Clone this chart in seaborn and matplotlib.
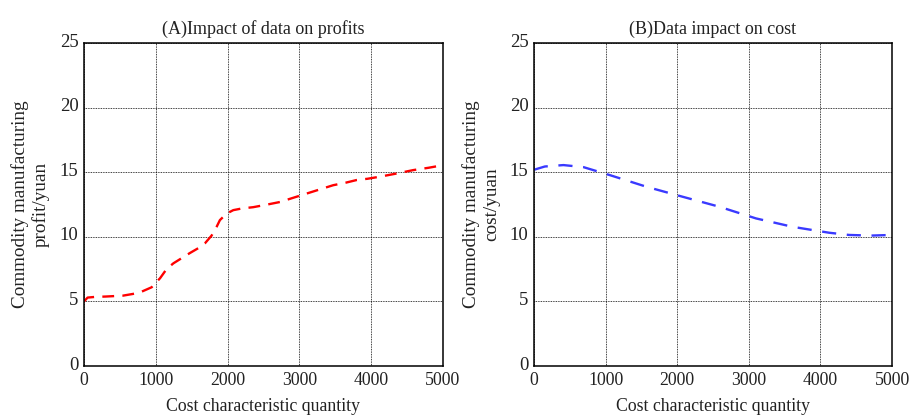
import matplotlib
matplotlib.use("Agg")
import matplotlib.pyplot as plt
import matplotlib.transforms as mtransforms
import pandas as pd
import seaborn as sns

# (A) profit curve
profit_x = [0, 50, 150, 300, 543, 700, 800, 943, 1060, 1150, 1245, 1360, 1476, 1600, 1685,
            1778, 1850, 1894, 1987, 2080, 2200, 2358, 2550, 2730, 2900, 3100, 3300, 3472,
            3650, 3797, 3950, 4123, 4350, 4587, 4800, 5000]
profit_y = [5.0, 5.3, 5.35, 5.38, 5.45, 5.6, 5.75, 6.1, 6.8, 7.5, 7.95, 8.35, 8.75, 9.15, 9.5,
            10.1, 10.8, 11.3, 11.8, 12.07, 12.2, 12.3, 12.5, 12.7, 13.0, 13.35, 13.7, 14.0,
            14.2, 14.4, 14.5, 14.66, 14.9, 15.17, 15.35, 15.55]

# (B) cost curve
cost_x = [0, 150, 410, 690, 1060, 1570, 2080, 2590, 3100, 3610, 4123, 4400, 4700, 5000]
cost_y = [15.2, 15.45, 15.56, 15.4, 14.78, 13.88, 13.1, 12.33, 11.43, 10.78, 10.32, 10.15, 10.1, 10.15]

x_ticks = [0, 1000, 2000, 3000, 4000, 5000]
y_ticks = [0, 5, 10, 15, 20, 25]

df_a = pd.DataFrame({"x": profit_x, "y": profit_y})
df_b = pd.DataFrame({"x": cost_x, "y": cost_y})

sns.set_style("white")
plt.rcParams["font.family"] = ["Liberation Serif", "DejaVu Serif"]

fig = plt.figure(figsize=(9.13, 4.15), dpi=100)
ax1 = fig.add_axes([0.092, 0.118, 0.393, 0.778])
ax2 = fig.add_axes([0.585, 0.118, 0.392, 0.778])

sns.lineplot(data=df_a, x="x", y="y", ax=ax1, color="red", linewidth=1.7,
             estimator=None, sort=False)
ax1.lines[0].set_dashes([5, 3.5])
sns.lineplot(data=df_b, x="x", y="y", ax=ax2, color="#3a3aff", linewidth=1.7,
             estimator=None, sort=False)
ax2.lines[0].set_dashes([6, 4.5])

panels = [
    (ax1, "(A)Impact of data on profits", "Commodity manufacturing\nprofit/yuan"),
    (ax2, "(B)Data impact on cost", "Commodity manufacturing\ncost/yuan"),
]
# nudge y tick labels up a little, like the reference
shift_up = mtransforms.ScaledTranslation(0, 3 / 100, fig.dpi_scale_trans)
for ax, title, ylab in panels:
    ax.set_xlim(0, 5000)
    ax.set_ylim(0, 25)
    ax.set_xticks(x_ticks)
    ax.set_yticks(y_ticks)
    ax.grid(True, color="black", linestyle=(0, (1, 1)), linewidth=0.6)
    ax.tick_params(axis="both", length=0, colors="#222222")
    ax.tick_params(axis="x", pad=4, labelsize=12.8)
    ax.tick_params(axis="y", pad=4, labelsize=13.5)
    for lbl in ax.get_yticklabels():
        lbl.set_transform(lbl.get_transform() + shift_up)
    for s in ax.spines.values():
        s.set_color("black")
        s.set_linewidth(1.1)
    ax.set_title(title, fontsize=13, pad=7, color="#222222")
    ax.set_xlabel("Cost characteristic quantity", fontsize=12.8, labelpad=7, color="#222222")
    ax.set_ylabel(ylab, fontsize=13.8, labelpad=7, color="#222222")

fig.savefig("out.png", dpi=100)
